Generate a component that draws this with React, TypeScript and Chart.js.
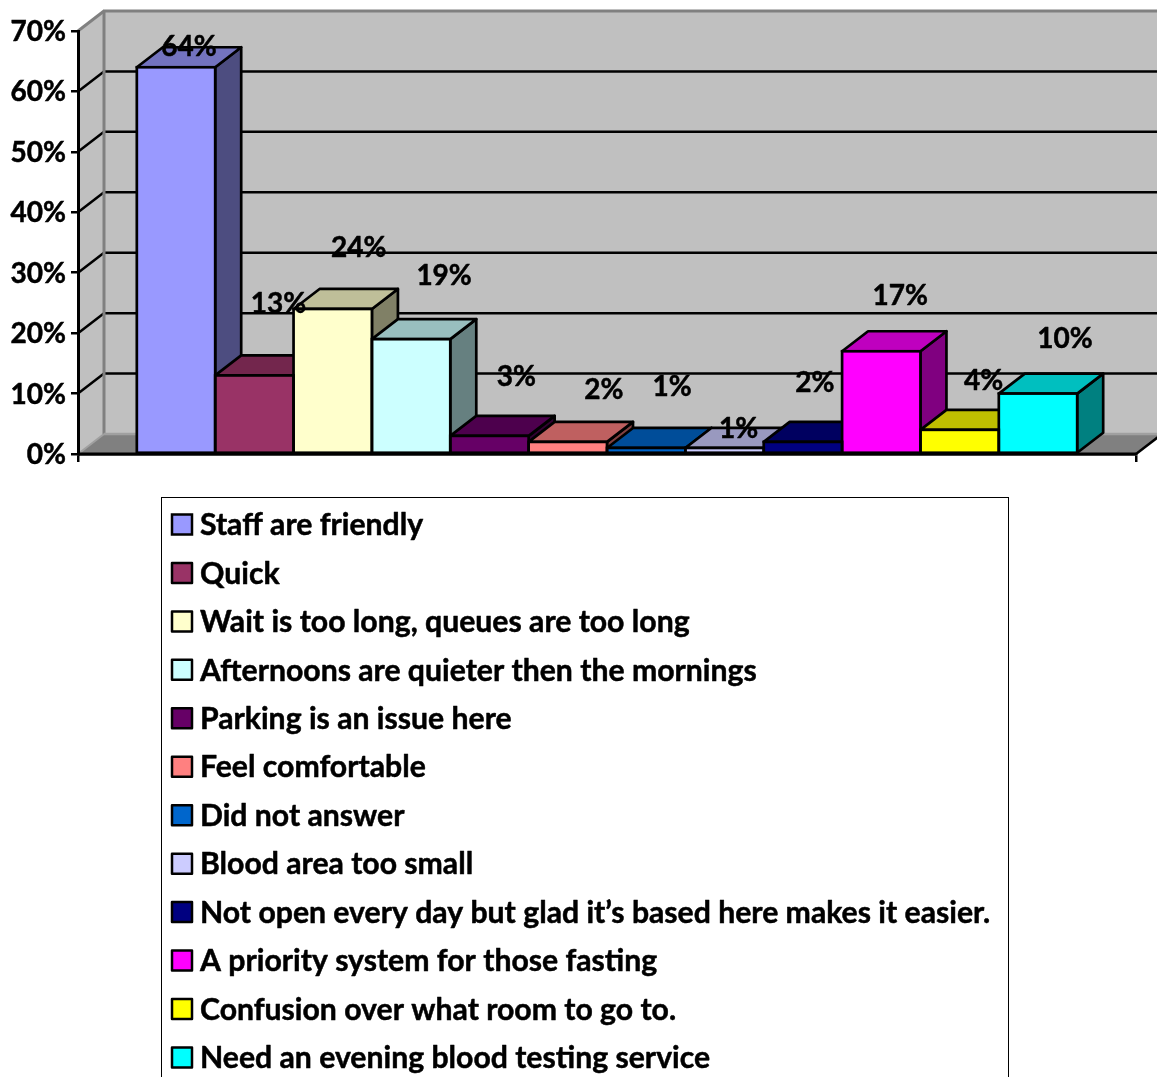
import React, { useEffect, useRef } from "react";
import { Chart, registerables } from "chart.js";

Chart.register(...registerables);

const seriesNames = [
  "Staff are friendly",
  "Quick",
  "Wait is too long, queues are too long",
  "Afternoons are quieter then the mornings",
  "Parking is an issue here",
  "Feel comfortable",
  "Did not answer",
  "Blood area too small",
  "Not open every day but glad it’s based here makes it easier.",
  "A priority system for those fasting",
  "Confusion over what room to go to.",
  "Need an evening blood testing service",
];
const seriesValues = [64, 13, 24, 19, 3, 2, 1, 1, 2, 17, 4, 10];
const seriesColors = [
  "#9999FF", "#993366", "#FFFFCC", "#CCFFFF", "#660066", "#FF8080",
  "#0066CC", "#CCCCFF", "#000080", "#FF00FF", "#FFFF00", "#00FFFF",
];
// Value label placement relative to the top-centre of each bar's front face.
const labelOffsets = [
  [13, -20], [24, -71], [26, -61], [33, -63], [27, -59], [36, -52],
  [26, -61], [14, -19], [12, -59], [19, -55], [24, -49], [27, -55],
];

const WIDTH = 1157;
const HEIGHT = 1077;
const DEPTH_X = 26;
const DEPTH_Y = -20;
const FONT_FAMILY = "Lato";
const LABEL_FONT = `bold 28px ${FONT_FAMILY}`;
const LEGEND_FONT = `bold 30.2px ${FONT_FAMILY}`;
const TEXT_STROKE = 0.5;
const BAR_STROKE = 2.7;

const shade = (hex: string, factor: number) => {
  const n = parseInt(hex.slice(1), 16);
  const c = [(n >> 16) & 255, (n >> 8) & 255, n & 255].map((v) => Math.round(v * factor));
  return `rgb(${c[0]},${c[1]},${c[2]})`;
};

const polygon = (ctx: CanvasRenderingContext2D, pts: number[][], fill: string | null, stroke: string | null, lw = 2) => {
  ctx.beginPath();
  pts.forEach(([x, y], i) => (i ? ctx.lineTo(x, y) : ctx.moveTo(x, y)));
  ctx.closePath();
  if (fill) {
    ctx.fillStyle = fill;
    ctx.fill();
  }
  if (stroke) {
    ctx.strokeStyle = stroke;
    ctx.lineWidth = lw;
    ctx.lineJoin = "round";
    ctx.stroke();
  }
};

const line = (ctx: CanvasRenderingContext2D, x1: number, y1: number, x2: number, y2: number, color: string, lw: number) => {
  ctx.beginPath();
  ctx.moveTo(x1, y1);
  ctx.lineTo(x2, y2);
  ctx.strokeStyle = color;
  ctx.lineWidth = lw;
  ctx.stroke();
};

const boldText = (ctx: CanvasRenderingContext2D, text: string, x: number, y: number) => {
  ctx.fillStyle = "#000";
  ctx.strokeStyle = "#000";
  ctx.lineWidth = TEXT_STROKE;
  ctx.lineJoin = "round";
  ctx.fillText(text, x, y);
  ctx.strokeText(text, x, y);
};

// Walls, floor and perspective gridlines sit behind the axes and the bars.
const wallsPlugin = {
  id: "walls",
  beforeDraw(chart: any) {
    const { ctx, chartArea: a, scales } = chart;
    const y = scales.y;
    const top = y.getPixelForValue(y.max);
    const base = y.getPixelForValue(0);
    const backLeft = a.left + DEPTH_X;
    const backRight = a.right + DEPTH_X;
    ctx.save();
    polygon(ctx, [[backLeft, top + DEPTH_Y], [backRight, top + DEPTH_Y], [backRight, base + DEPTH_Y], [backLeft, base + DEPTH_Y]], "#C0C0C0", null);
    polygon(ctx, [[a.left, top], [backLeft, top + DEPTH_Y], [backLeft, base + DEPTH_Y], [a.left, base]], "#C0C0C0", null);
    polygon(ctx, [[a.left, base], [backLeft, base + DEPTH_Y], [backRight, base + DEPTH_Y], [a.right, base]], "#808080", null);
    for (const t of y.ticks) {
      if (t.value === 0 || t.value === y.max) continue;
      const py = y.getPixelForValue(t.value);
      line(ctx, a.left, py, backLeft, py + DEPTH_Y, "#000", 2.5);
      line(ctx, backLeft, py + DEPTH_Y, backRight, py + DEPTH_Y, "#000", 2.5);
    }
    line(ctx, a.left, top, backLeft, top + DEPTH_Y, "#808080", 3);
    line(ctx, backLeft - 1, top + DEPTH_Y, backRight, top + DEPTH_Y, "#808080", 3);
    line(ctx, backLeft, top + DEPTH_Y, backLeft, base + DEPTH_Y, "#808080", 3);
    line(ctx, backLeft, base + DEPTH_Y, backRight, base + DEPTH_Y, "#A0A0A0", 2.5);
    line(ctx, a.left, base, backLeft, base + DEPTH_Y, "#A0A0A0", 2);
    line(ctx, a.right, base, backRight, base + DEPTH_Y, "#000", 2.5);
    ctx.restore();
  },
  // Side and top faces are painted left to right so that each bar overlaps the previous one.
  beforeDatasetsDraw(chart: any) {
    const { ctx } = chart;
    ctx.save();
    chart.data.datasets.forEach((ds: any, i: number) => {
      const el = chart.getDatasetMeta(i).data[0];
      const l = el.x - el.width / 2;
      const r = el.x + el.width / 2;
      polygon(ctx, [[r, el.y], [r + DEPTH_X, el.y + DEPTH_Y], [r + DEPTH_X, el.base + DEPTH_Y], [r, el.base]], shade(ds.backgroundColor, 0.5), "#000", BAR_STROKE);
      polygon(ctx, [[l, el.y], [l + DEPTH_X, el.y + DEPTH_Y], [r + DEPTH_X, el.y + DEPTH_Y], [r, el.y]], shade(ds.backgroundColor, 0.75), "#000", BAR_STROKE);
    });
    ctx.restore();
  },
  // Front-face outlines, the base line and the value labels go on top of the bars.
  afterDatasetsDraw(chart: any) {
    const { ctx, chartArea: a } = chart;
    ctx.save();
    chart.data.datasets.forEach((_: any, i: number) => {
      const el = chart.getDatasetMeta(i).data[0];
      ctx.strokeStyle = "#000";
      ctx.lineWidth = BAR_STROKE;
      ctx.strokeRect(el.x - el.width / 2, el.y, el.width, el.base - el.y);
    });
    line(ctx, a.left, a.bottom, a.right, a.bottom, "#000", 3);
    ctx.font = LABEL_FONT;
    ctx.textAlign = "center";
    ctx.textBaseline = "middle";
    chart.data.datasets.forEach((ds: any, i: number) => {
      const el = chart.getDatasetMeta(i).data[0];
      boldText(ctx, `${ds.data[0]}%`, el.x + labelOffsets[i][0], el.y + labelOffsets[i][1]);
    });
    ctx.restore();
  },
};

// Single-column boxed legend below the plot; its frame runs past the bottom of the canvas.
const boxedLegendPlugin = {
  id: "boxedLegend",
  afterDraw(chart: any) {
    const { ctx } = chart;
    ctx.save();
    ctx.strokeStyle = "#000";
    ctx.lineWidth = 1;
    ctx.strokeRect(161.5, 497.5, 847, 620);
    ctx.font = LEGEND_FONT;
    ctx.textAlign = "left";
    ctx.textBaseline = "middle";
    chart.data.datasets.forEach((ds: any, i: number) => {
      const cy = 524.5 + i * 48.45;
      ctx.fillStyle = ds.backgroundColor;
      ctx.fillRect(172, cy - 10, 20, 20);
      ctx.strokeStyle = "#000";
      ctx.lineWidth = 2.5;
      ctx.strokeRect(172, cy - 10, 20, 20);
      boldText(ctx, ds.label, 200, cy + 1);
    });
    ctx.restore();
  },
};

export default function App() {
  const canvasRef = useRef<HTMLCanvasElement>(null);

  useEffect(() => {
    const chart = new Chart(canvasRef.current as HTMLCanvasElement, {
      type: "bar",
      data: {
        labels: [""],
        datasets: seriesNames.map((name, i) => ({
          label: name,
          data: [seriesValues[i]],
          backgroundColor: seriesColors[i],
          borderWidth: 0,
          barPercentage: 1,
          categoryPercentage: 0.8888,
        })),
      },
      options: {
        responsive: false,
        animation: false,
        layout: { padding: { left: 0, top: 31, right: 21, bottom: 615 } },
        plugins: { legend: { display: false }, tooltip: { enabled: false }, title: { display: false } },
        scales: {
          x: {
            offset: true,
            afterFit: (scale: any) => {
              scale.height = 8;
            },
            grid: {
              offset: true,
              drawOnChartArea: false,
              drawTicks: true,
              tickLength: 8,
              color: "#000",
              lineWidth: 2.5,
            },
            border: { display: true, color: "#000", width: 2.5 },
            ticks: { display: false },
          },
          y: {
            min: 0,
            max: 70,
            afterFit: (scale: any) => {
              scale.width = 78;
            },
            grid: { drawOnChartArea: false, drawTicks: true, tickLength: 7, color: "#000", lineWidth: 2.5 },
            border: { display: true, color: "#000", width: 3 },
            ticks: {
              stepSize: 10,
              padding: 5,
              labelOffset: 1,
              color: "#000",
              textStrokeColor: "#000",
              textStrokeWidth: TEXT_STROKE,
              font: { family: FONT_FAMILY, weight: "bold", size: 28 },
              callback: (v: any) => `${v}%`,
            },
          },
        },
      },
      plugins: [wallsPlugin, boxedLegendPlugin],
    } as any);
    return () => chart.destroy();
  }, []);

  return (
    <div style={{ position: "absolute", left: 0, top: 0, width: WIDTH, height: HEIGHT, overflow: "hidden" }}>
      <canvas ref={canvasRef} width={WIDTH} height={HEIGHT} style={{ display: "block" }} />
    </div>
  );
}
